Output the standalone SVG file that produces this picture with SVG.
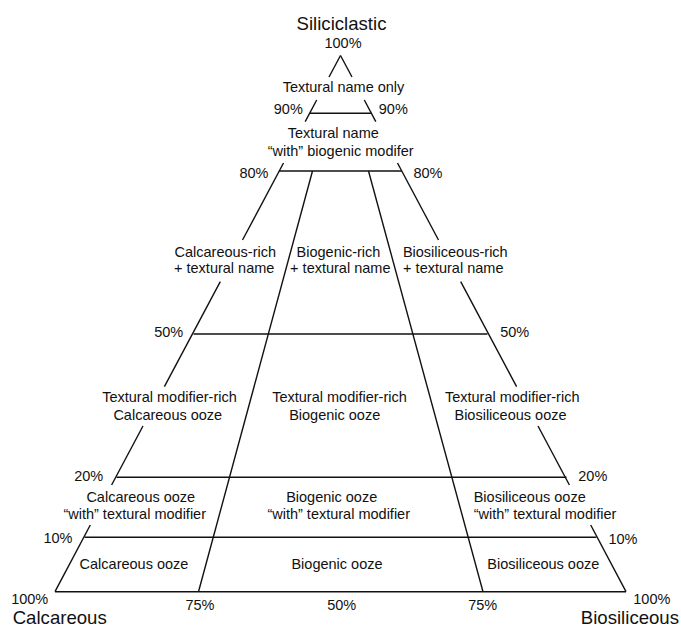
<svg xmlns="http://www.w3.org/2000/svg" width="681" height="627" viewBox="0 0 681 627">
<style>
.ln{stroke:#111;stroke-width:1.4;fill:none;stroke-linecap:butt}
text{font-family:"Liberation Sans",Arial,Helvetica,sans-serif;font-size:14.5px;fill:#111}
.c{text-anchor:middle}
.big{font-size:18.6px}
</style>
<rect width="681" height="627" fill="#fff"/>
<g id="connectors">
<!-- left edge segments -->
<line class="ln" x1="340.5" y1="55.5" x2="329.0" y2="77"/>
<line class="ln" x1="316.7" y1="100" x2="305.2" y2="121.7"/>
<line class="ln" x1="283.5" y1="163" x2="242.5" y2="240"/>
<line class="ln" x1="220.3" y1="281.7" x2="164.4" y2="386.7"/>
<line class="ln" x1="143.0" y1="426" x2="111.6" y2="485"/>
<line class="ln" x1="90.3" y1="525" x2="55" y2="591.7"/>
<!-- right edge segments -->
<line class="ln" x1="340.5" y1="55.5" x2="352.0" y2="77"/>
<line class="ln" x1="364.3" y1="100" x2="375.8" y2="121.7"/>
<line class="ln" x1="397.5" y1="163" x2="438.5" y2="240"/>
<line class="ln" x1="460.7" y1="281.7" x2="516.6" y2="386.7"/>
<line class="ln" x1="538.0" y1="426" x2="569.4" y2="485"/>
<line class="ln" x1="590.7" y1="525" x2="626" y2="591.7"/>
<!-- horizontal lines -->
<line class="ln" x1="309.9" y1="113.3" x2="371.1" y2="113.3"/>
<line class="ln" x1="279" y1="171" x2="402" y2="171"/>
<line class="ln" x1="193.5" y1="334" x2="487.5" y2="334"/>
<line class="ln" x1="116.5" y1="477.3" x2="566.5" y2="477.3"/>
<line class="ln" x1="84.5" y1="537.3" x2="596.5" y2="537.3"/>
<line class="ln" x1="55" y1="591.7" x2="626" y2="591.7"/>
<!-- inner lines -->
<line class="ln" x1="312.5" y1="171" x2="198.5" y2="591.7"/>
<line class="ln" x1="368.5" y1="171" x2="483" y2="591.7"/>
</g>
<g id="apex-label">
<text class="c big" x="341.5" y="30">Siliciclastic</text>
<text class="c" x="343" y="47.7">100%</text>
</g>
<g id="textural-only"><text class="c" x="343.5" y="91.7">Textural name only</text></g>
<g id="ticks-90">
<text class="c" x="288.3" y="114.3">90%</text>
<text class="c" x="393.3" y="114.3">90%</text>
</g>
<g id="textural-with">
<text class="c" x="333.3" y="138.3">Textural name</text>
<text class="c" x="340.7" y="155.5">“with” biogenic modifer</text>
</g>
<g id="ticks-80">
<text class="c" x="254" y="178.3">80%</text>
<text class="c" x="428" y="178.3">80%</text>
</g>
<g id="calc-rich">
<text class="c" x="225.3" y="256.7">Calcareous-rich</text>
<text class="c" x="224.2" y="273.3">+ textural name</text>
</g>
<g id="bio-rich">
<text class="c" x="338.5" y="256.7">Biogenic-rich</text>
<text class="c" x="340.3" y="273.3">+ textural name</text>
</g>
<g id="biosil-rich">
<text class="c" x="455.3" y="256.7">Biosiliceous-rich</text>
<text class="c" x="453.3" y="273.3">+ textural name</text>
</g>
<g id="ticks-50">
<text class="c" x="168.7" y="336.7">50%</text>
<text class="c" x="514.7" y="336.7">50%</text>
</g>
<g id="tm-calc">
<text class="c" x="169.5" y="401.7">Textural modifier-rich</text>
<text class="c" x="167.8" y="419.7">Calcareous ooze</text>
</g>
<g id="tm-bio">
<text class="c" x="339.5" y="401.7">Textural modifier-rich</text>
<text class="c" x="334.7" y="419.7">Biogenic ooze</text>
</g>
<g id="tm-biosil">
<text class="c" x="512.2" y="401.7">Textural modifier-rich</text>
<text class="c" x="510.5" y="419.7">Biosiliceous ooze</text>
</g>
<g id="ticks-20">
<text class="c" x="88.7" y="480.7">20%</text>
<text class="c" x="592.8" y="480.7">20%</text>
</g>
<g id="calc-with">
<text class="c" x="140.8" y="501.7">Calcareous ooze</text>
<text class="c" x="134.7" y="519.3">“with” textural modifier</text>
</g>
<g id="bio-with">
<text class="c" x="331.7" y="502.3">Biogenic ooze</text>
<text class="c" x="338.7" y="519.3">“with” textural modifier</text>
</g>
<g id="biosil-with">
<text class="c" x="529.7" y="501.7">Biosiliceous ooze</text>
<text class="c" x="545" y="519.3">“with” textural modifier</text>
</g>
<g id="ticks-10">
<text class="c" x="58" y="543.3">10%</text>
<text class="c" x="623" y="544">10%</text>
</g>
<g id="calc-ooze"><text class="c" x="134" y="568.5">Calcareous ooze</text></g>
<g id="bio-ooze"><text class="c" x="337" y="568.8">Biogenic ooze</text></g>
<g id="biosil-ooze"><text class="c" x="543.3" y="568.5">Biosiliceous ooze</text></g>
<g id="bottom-ticks">
<text class="c" x="29.7" y="603.5">100%</text>
<text class="c" x="200" y="609.5">75%</text>
<text class="c" x="341.7" y="610">50%</text>
<text class="c" x="482.7" y="610">75%</text>
<text class="c" x="651.8" y="603.5">100%</text>
</g>
<g id="calcareous-label"><text class="big" x="12.7" y="624.3">Calcareous</text></g>
<g id="biosiliceous-label"><text class="big" x="679" y="624.3" text-anchor="end">Biosiliceous</text></g>
</svg>
